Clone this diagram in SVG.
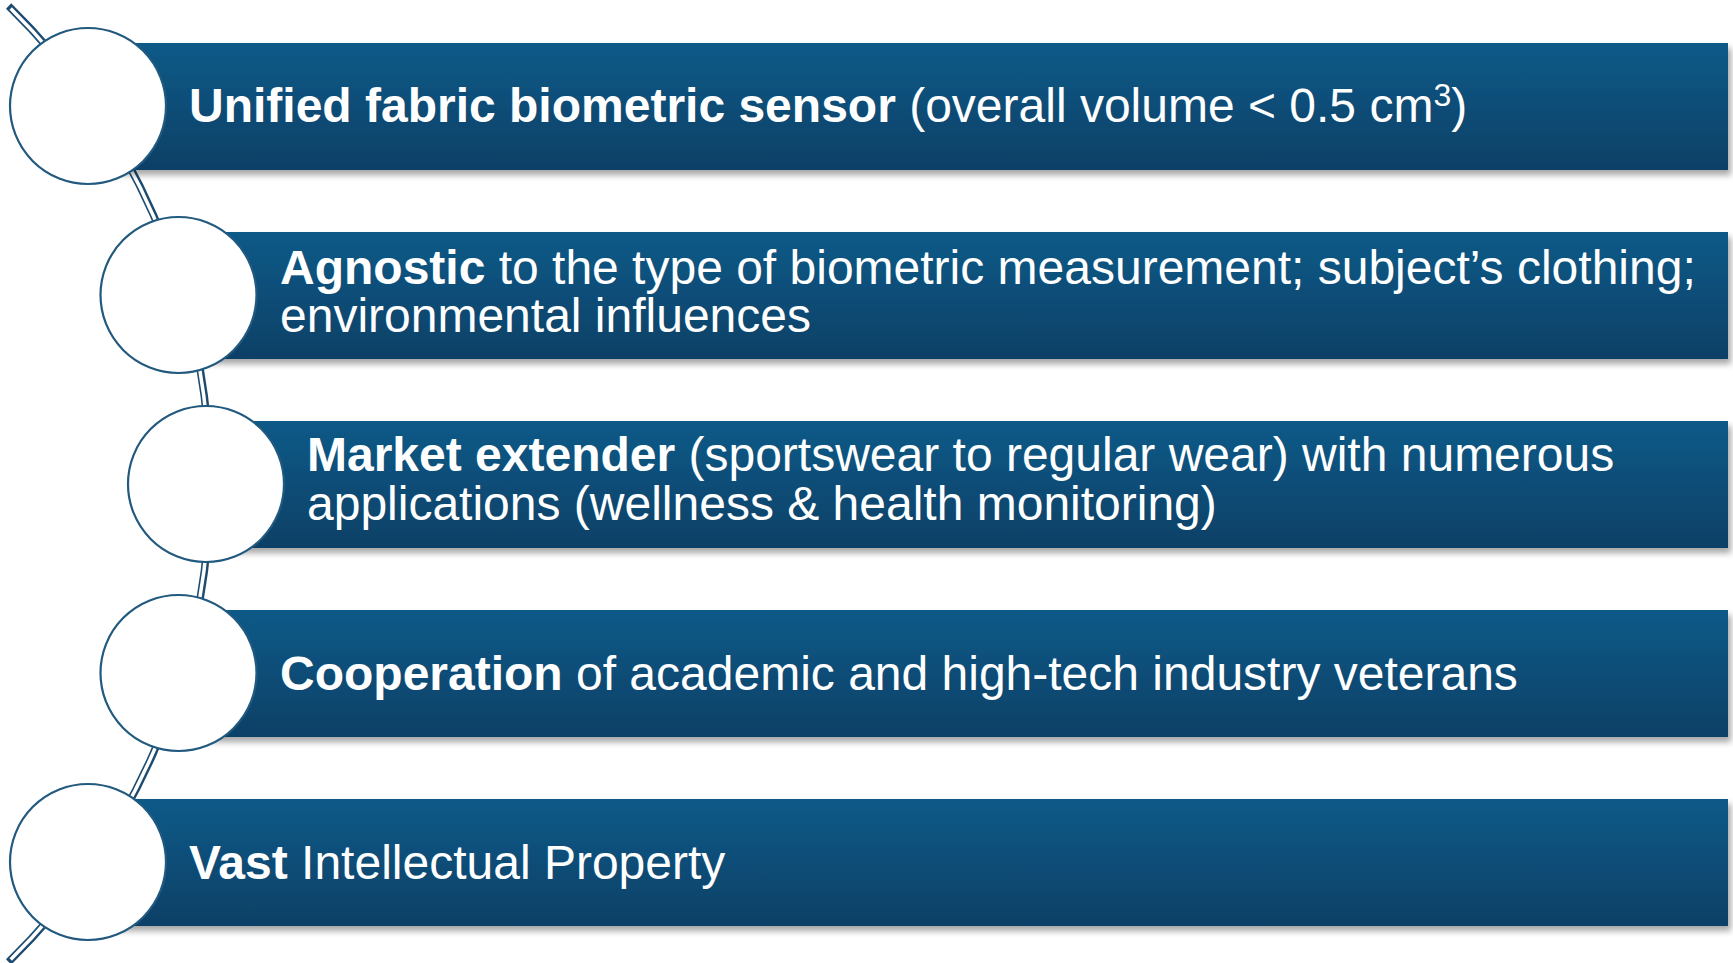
<svg xmlns="http://www.w3.org/2000/svg" width="1733" height="963" viewBox="0 0 1733 963">
  <defs>
    <linearGradient id="barGrad" x1="0" y1="0" x2="0" y2="1">
      <stop offset="0" stop-color="#0d5a88"/>
      <stop offset="1" stop-color="#074066"/>
    </linearGradient>
    <filter id="shadow" x="-5%" y="-20%" width="110%" height="150%">
      <feDropShadow dx="3" dy="5" stdDeviation="3" flood-color="#000" flood-opacity="0.35"/>
    </filter>
    <style>
      .bar { fill: url(#barGrad); filter: url(#shadow); }
      .dot { fill: #ffffff; stroke: #22597f; stroke-width: 2.2; }
      .txt { font-family: "Liberation Sans", Arial, sans-serif; font-size: 48px; fill: #ffffff; }
      .b { font-weight: bold; }
      .arcOut { fill: none; stroke: #1d4b70; stroke-width: 7.5; }
      .arcIn { fill: none; stroke: #ffffff; stroke-width: 3.5; }
    </style>
  </defs>
  <rect width="1733" height="963" fill="#ffffff"/>

  <g id="connectors">
    <path class="arcOut" d="M 8.6 6 A 668 668 0 0 1 8.6 962"/>
    <path class="arcIn" d="M 10.7 8.5 A 668 668 0 0 1 10.7 959.5"/>
  </g>

  <g id="item1">
    <rect class="bar" x="88" y="43" width="1640" height="127"/>
    <circle class="dot" cx="88" cy="106" r="78"/>
    <text class="txt" x="189" y="122"><tspan class="b">Unified fabric biometric sensor</tspan> (overall volume &lt; 0.5 cm<tspan font-size="32" dy="-16">3</tspan><tspan dy="16">)</tspan></text>
  </g>

  <g id="item2">
    <rect class="bar" x="178" y="232" width="1550" height="127"/>
    <circle class="dot" cx="178.5" cy="295" r="78"/>
    <text class="txt" x="280" y="284"><tspan class="b">Agnostic</tspan> to the type of biometric measurement; subject’s clothing;</text>
    <text class="txt" x="280" y="332">environmental influences</text>
  </g>

  <g id="item3">
    <rect class="bar" x="206" y="421" width="1522" height="127"/>
    <circle class="dot" cx="206" cy="484" r="78"/>
    <text class="txt" x="307" y="471"><tspan class="b">Market extender</tspan> (sportswear to regular wear) with numerous</text>
    <text class="txt" x="307" y="520">applications (wellness &amp; health monitoring)</text>
  </g>

  <g id="item4">
    <rect class="bar" x="178" y="610" width="1550" height="127"/>
    <circle class="dot" cx="178.5" cy="673" r="78"/>
    <text class="txt" x="280" y="690"><tspan class="b">Cooperation</tspan> of academic and high-tech industry veterans</text>
  </g>

  <g id="item5">
    <rect class="bar" x="88" y="799" width="1640" height="127"/>
    <circle class="dot" cx="88" cy="862" r="78"/>
    <text class="txt" x="189" y="879"><tspan class="b">Vast</tspan> Intellectual Property</text>
  </g>
</svg>
